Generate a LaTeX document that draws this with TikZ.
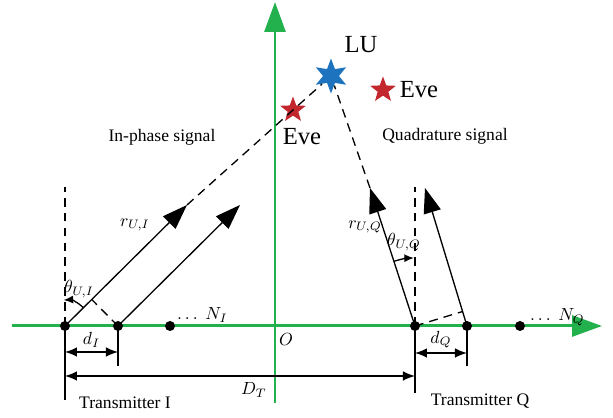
\documentclass[tikz,border=0pt]{standalone}
\usepackage{amsmath,amssymb}
\usepackage{fontspec}
\setmainfont{Liberation Serif}
\usetikzlibrary{arrows.meta, calc, positioning, shapes.geometric}
\definecolor{axgreen}{HTML}{22B14C}
\definecolor{lublue}{HTML}{1E73BE}
\definecolor{evered}{HTML}{C1272D}

\begin{document}
\begin{tikzpicture}[
    x=0.02cm, y=0.02cm,
    >={Latex[length=2.4mm, width=1.9mm]},
    every node/.style={text=black},
  ]

  % Frame
  \useasboundingbox (-275,-92) rectangle (338,326);

  % Styles
  \tikzset{
    axisline/.style={axgreen, line width=1.7pt, -{Triangle[length=6mm, width=4.2mm]}},
    beam/.style={line width=0.75pt, -{Triangle[length=5mm, width=3.5mm]}},
    ray/.style={line width=0.75pt, dash pattern=on 5pt off 3.5pt},
    plain/.style={line width=0.75pt},
    dimline/.style={line width=0.75pt, <->},
    anglearc/.style={line width=0.75pt, -{Latex[length=1.9mm, width=1.6mm]}},
    antenna/.style={circle, fill=black, inner sep=0pt, minimum size=2mm},
    redstar/.style={star, star points=5, star point ratio=2.4, fill=evered,
                    inner sep=0pt, minimum size=5.4mm},
  }

  % Axes
  \coordinate (xl) at (-263,0);
  \coordinate (xr) at (327,0);
  \coordinate (yb) at (0,-77);
  \coordinate (yt) at (0,324);
  \draw[axisline] (xl) -- (xr);
  \draw[axisline] (yb) -- (yt);
  \node[font=\normalsize] (o) at (11,-14) {$O$};

  % Antennas
  \node[antenna] (i1) at (-210,0) {};
  \node[antenna] (i2) at (-157,0) {};
  \node[antenna] (i3) at (-105,0) {};
  \node[antenna] (q1) at (140,0) {};
  \node[antenna] (q2) at (192,0) {};
  \node[antenna] (q3) at (245,0) {};
  \node[anchor=base west] (ni) at (-104,6) {$\ldots\;N_I$};
  \node[anchor=base west] (nq) at (249,5) {$\ldots\;N_Q$};

  % User and eavesdroppers
  \node[star, star points=6, star point ratio=2.2, fill=lublue,
        inner sep=0pt, minimum size=7mm] (lu) at (56,250) {};
  \node[redstar] (evea) at (18,216) {};
  \node[redstar] (eveb) at (108,236) {};
  \node[font=\fontsize{14}{16}\selectfont] (lulab) at (86,281) {LU};
  \node[font=\fontsize{14}{16}\selectfont] (evealab) at (27,189) {Eve};
  \node[font=\fontsize{14}{16}\selectfont, right=0.5mm of eveb] (eveblab) {Eve};

  % Beam tips
  \coordinate (ti1) at (-88,121);
  \coordinate (ti2) at (-35,121);
  \coordinate (tq1) at (95,138);
  \coordinate (tq2) at (150,138);

  % In-phase beams
  \draw[beam] (i1.center) -- (ti1);
  \draw[beam] (i2.center) -- (ti2);
  \draw[ray] (ti1) -- (lu);
  \node (ril) at (-140,101) {$r_{U,I}$};

  % Quadrature beams
  \draw[beam] (q1.center) -- (tq1);
  \draw[beam] (q2.center) -- (tq2);
  \draw[ray] (tq1) -- (lu);
  \node (rql) at (90,99) {$r_{U,Q}$};

  % Normals and wave fronts
  \coordinate (vi) at (-210,139);
  \coordinate (vq) at (140,139);
  \draw[ray] (i1.center) -- (vi);
  \draw[ray] (q1.center) -- (vq);
  \draw[ray] (i2.center) -- ($(i1)!(i2)!(ti1)$);
  \draw[ray] (q1.center) -- ($(q2)!(q1)!(tq2)$);

  % Angles
  \draw[anglearc] ($(i1)+(45:26)$) arc[start angle=45, end angle=93, radius=26];
  \node (thi) at (-196,37) {$\theta_{U,I}$};
  \draw[anglearc] ($(q1)+(108:68)$) arc[start angle=108, end angle=91, radius=68];
  \node (thq) at (129,84) {$\theta_{U,Q}$};

  % Dimension lines
  \coordinate (bi1) at (-210,-74);
  \coordinate (bi2) at (-157,-40);
  \coordinate (bq1) at (140,-67);
  \coordinate (bq2) at (192,-40);
  \draw[plain] (i1.center) -- (bi1);
  \draw[plain] (i2.center) -- (bi2);
  \draw[plain] (q1.center) -- (bq1);
  \draw[plain] (q2.center) -- (bq2);
  \draw[dimline] ($(i1)+(0,-26)$) -- ($(i2)+(0,-26)$)
    node[midway, above=-1pt] {$d_I$};
  \draw[dimline] ($(q1)+(0,-27)$) -- ($(q2)+(0,-27)$)
    node[midway, above=-1pt] {$d_Q$};
  \draw[dimline] ($(i1)+(0,-50)$) -- ($(q1)+(0,-50)$)
    node[pos=0.54, below=0pt] {$D_T$};

  % Signal labels
  \node (inph) at (-113,189) {In-phase signal};
  \node (quad) at (170,190) {Quadrature signal};
  \node (txi) at (-150,-77) {Transmitter I};
  \node (txq) at (205,-75) {Transmitter Q};

\end{tikzpicture}
\end{document}
